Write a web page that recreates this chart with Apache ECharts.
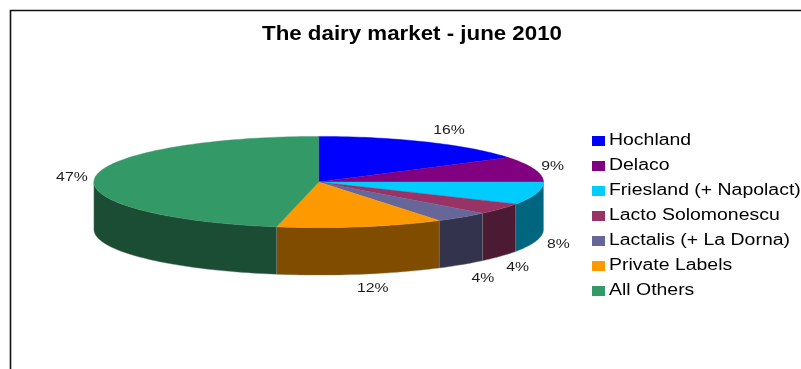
<!DOCTYPE html>
<html>
<head>
<meta charset="utf-8">
<style>
  html, body { margin: 0; padding: 0; background: #fff; }
  #chart { width: 801px; height: 369px; }
</style>
<script src="https://cdn.jsdelivr.net/npm/echarts@6/dist/echarts.min.js"></script>
</head>
<body>
<div id="chart"></div>
<script>
// Market shares, in percent, clockwise from twelve o'clock
const chartTitle = 'The dairy market - june 2010';
const categories = ['Hochland', 'Delaco', 'Friesland (+ Napolact)', 'Lacto Solomonescu', 'Lactalis (+ La Dorna)', 'Private Labels', 'All Others'];
const shares = [16, 9, 8, 4, 4, 12, 47];
const topColors = ['#0000ff', '#800080', '#00ccff', '#993366', '#666699', '#ff9900', '#339966'];
const wallColors = ['#000080', '#400040', '#006680', '#4d1a33', '#33334d', '#804d00', '#1a4d33'];

// Pie geometry: an ellipse seen in perspective with a side wall below the rim
const CX = 318.7, CY = 182, RX = 224.8, RY = 45.6, DEPTH = 47.5;
// Label shift from the rim point at the middle of each slice
const labelShifts = [[22, -12], [18, -3], [22, 51], [17, 58], [21, 61], [12, 61], [-23, 0]];
const FONT = '"Liberation Sans", Arial, sans-serif';

const total = shares.reduce((a, b) => a + b, 0);
const rim = (deg) => {
  const t = deg * Math.PI / 180;
  return [CX + RX * Math.sin(t), CY - RY * Math.cos(t)];
};
const arc = (from, to) => {
  const pts = [];
  const n = Math.max(2, Math.ceil(Math.abs(to - from) / 1.5));
  for (let i = 0; i <= n; i++) pts.push(rim(from + (to - from) * i / n));
  return pts;
};

function renderSlice(index) {
  return function (params, api) {
    const before = api.value(0), share = api.value(1);
    const start = before / total * 360, end = (before + share) / total * 360;
    const children = [];

    // Side wall: only the front half of the rim is visible
    const wFrom = Math.max(start, 90), wTo = Math.min(end, 270);
    if (wTo > wFrom) {
      const upper = arc(wFrom, wTo);
      const lower = upper.slice().reverse().map(p => [p[0], p[1] + DEPTH]);
      children.push({
        type: 'polygon',
        shape: { points: upper.concat(lower) },
        style: { fill: wallColors[index], stroke: '#7d7d7d', lineWidth: 0.4 },
        z2: 1
      });
    }

    // Top face
    children.push({
      type: 'polygon',
      shape: { points: [[CX, CY]].concat(arc(start, end)) },
      style: { fill: topColors[index], stroke: topColors[index], lineWidth: 0.4 },
      z2: 2
    });

    // Percentage label, in the same wide setting as the other text
    const anchor = rim((start + end) / 2);
    children.push({
      type: 'text',
      x: anchor[0] + labelShifts[index][0],
      y: anchor[1] + labelShifts[index][1],
      scaleX: 1.17,
      style: {
        text: share + '%',
        fill: '#1c1c1c',
        font: '13.5px ' + FONT,
        align: 'center',
        verticalAlign: 'middle'
      },
      z2: 3
    });
    return { type: 'group', children };
  };
}

let running = 0;
const series = categories.map((name, i) => {
  const row = [running, shares[i]];
  running += shares[i];
  return {
    type: 'custom',
    name,
    coordinateSystem: 'none',
    silent: true,
    itemStyle: { color: topColors[i] },
    renderItem: renderSlice(i),
    data: [row]
  };
});

// Title and legend captions are stretched horizontally, so they are drawn as scaled text
const LEGEND_TOP = 136, LEGEND_STEP = 25;
const legendCaptions = categories.map((name, i) => ({
  type: 'text',
  x: 609,
  y: LEGEND_TOP + 5 + i * LEGEND_STEP,
  scaleX: 1.215,
  silent: true,
  style: {
    text: name,
    fill: '#000000',
    font: '16px ' + FONT,
    textAlign: 'left',
    textVerticalAlign: 'middle'
  }
}));

const chart = echarts.init(document.getElementById('chart'), null, { renderer: 'canvas' });
chart.setOption({
  animation: false,
  backgroundColor: '#ffffff',
  legend: {
    orient: 'vertical',
    left: 592,
    top: LEGEND_TOP,
    padding: 0,
    itemWidth: 13,
    itemHeight: 10,
    itemGap: LEGEND_STEP - 10,
    icon: 'rect',
    selectedMode: false,
    data: categories,
    formatter: () => ''
  },
  graphic: [{
    type: 'polyline',
    shape: { points: [[10.5, 369], [10.5, 10.5], [801, 10.5]] },
    style: { fill: null, stroke: '#111111', lineWidth: 1.6 },
    silent: true
  }, {
    type: 'text',
    x: 412,
    y: 34,
    scaleX: 1.115,
    silent: true,
    style: {
      text: chartTitle,
      fill: '#000000',
      font: 'bold 20px ' + FONT,
      textAlign: 'center',
      textVerticalAlign: 'middle'
    }
  }].concat(legendCaptions),
  series
});
</script>
</body>
</html>
